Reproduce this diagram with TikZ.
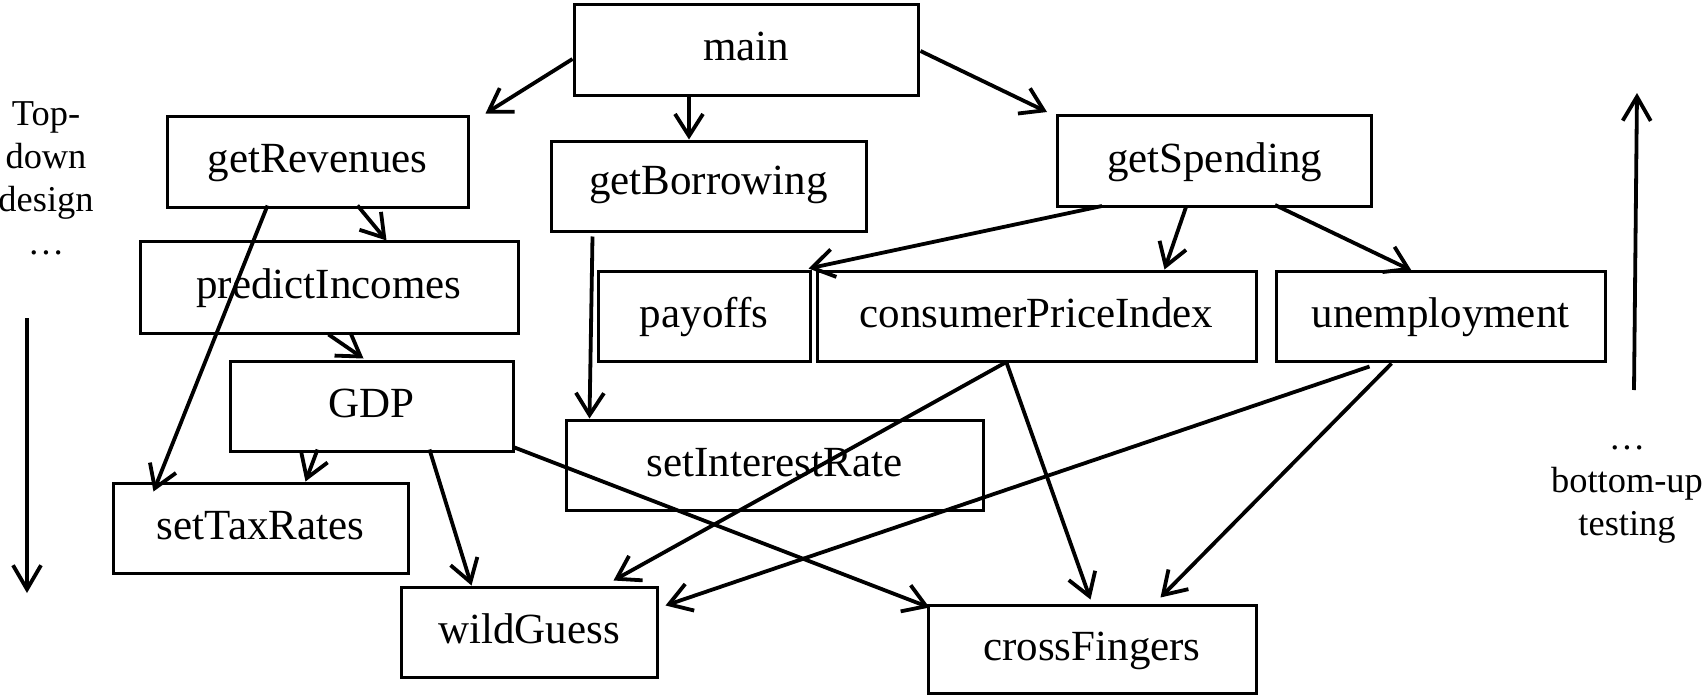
\documentclass[tikz,border=0pt]{standalone}
\usepackage{fontspec}
\setmainfont{Liberation Serif}
\usetikzlibrary{arrows.meta,calc}
\begin{document}
\begin{tikzpicture}[x=0.5pt,y=-0.5pt,
  box/.style={draw=black, line width=1.5pt, inner sep=0pt,
    font=\fontsize{21.5}{25}\selectfont, text height=14pt, text depth=3pt},
  arr/.style={line width=1.9pt, -{Straight Barb[length=11pt,width=14pt]}},
  sidetext/.style={anchor=base, inner sep=0pt, font=\fontsize{18.2}{21}\selectfont},
  bigarr/.style={line width=1.9pt, -{Straight Barb[length=12pt,width=14pt]}}
]
\useasboundingbox (0,0) rectangle (1704,696);

% boxes
\node[box, minimum width=172pt, minimum height=45.5pt] (main) at (746,49.5) {main};
\node[box, minimum width=150.5pt, minimum height=45.5pt] (gR) at (317.5,161.5) {getRevenues};
\node[box, minimum width=157.5pt, minimum height=45pt, text height=11pt] (gB) at (708.5,186) {getBorrowing};
\node[box, minimum width=157pt, minimum height=45.5pt] (gS) at (1214.5,161) {getSpending};
\node[box, minimum width=189pt, minimum height=46pt] (pI) at (329,287) {predictIncomes};
\node[box, minimum width=106pt, minimum height=45pt] (pay) at (704,316) {payoffs};
\node[box, minimum width=219.5pt, minimum height=45pt] (cpi) at (1036.5,316) {consumerPriceIndex};
\node[box, minimum width=164.5pt, minimum height=45pt] (un) at (1440.5,316) {unemployment};
\node[box, minimum width=141.5pt, minimum height=45pt] (gdp) at (371.5,406) {GDP};
\node[box, minimum width=208.5pt, minimum height=45pt] (sir) at (774.5,465) {setInterestRate};
\node[box, minimum width=147.5pt, minimum height=45pt] (stR) at (260.5,528) {setTaxRates};
\node[box, minimum width=128pt, minimum height=45pt] (wg) at (529,632) {wildGuess};
\node[box, minimum width=164pt, minimum height=44pt] (cf) at (1092,649) {crossFingers};

% connectors
\draw[arr] ($(main.west)+(0,9.5)$) -- ($(gR.north east)+(16,-1)$);
\draw[arr] ($(main.south)+(-57,0)$) -- ($(gB.north)+(-19.5,0)$);
\draw[arr] ($(main.east)+(1,1.5)$) -- ($(gS.north west)+(-9,-2)$);
\draw[arr] ($(gR.south west)+(192,-3)$) -- ($(pI.north west)+(248,1)$);
\draw[arr] ($(gR.south west)+(102,-3)$) -- ($(stR.north west)+(42,10)$);
\draw[arr] ($(pI.south west)+(190,0)$) -- ($(gdp.north west)+(135,-1)$);
\draw[arr] ($(gdp.south west)+(89,-3)$) -- ($(stR.north west)+(194,0)$);
\draw[arr] ($(gdp.south west)+(201,-3)$) -- ($(wg.north west)+(72,0)$);
\draw[arr] ($(gdp.south east)+(0,-5)$) -- ($(cf.north west)+(3,4)$);
\draw[arr] ($(gB.south west)+(43,4)$) -- ($(sir.north west)+(25,0)$);
\draw[arr] ($(gS.south west)+(46,-2)$) -- ($(pay.north east)+(-3,-1)$);
\draw[arr] ($(gS.south west)+(130,-1)$) -- ($(cpi.north west)+(349,0)$);
\draw[arr] ($(gS.south west)+(219,-3)$) -- ($(un.north west)+(137,1)$);
\draw[arr] ($(cpi.south west)+(190,0)$) -- ($(wg.north west)+(214,-5)$);
\draw[arr] ($(cpi.south west)+(191,0)$) -- ($(cf.north west)+(164,-4)$);
\draw[arr] ($(un.south west)+(95,4)$) -- ($(wg.north east)+(7,20)$);
\draw[arr] ($(un.south west)+(117,1)$) -- ($(cf.north west)+(234,-6)$);

% side annotations
\node[sidetext] (l1) at (46,125) {Top-};
\node[sidetext] (l2) at (46,168) {down};
\node[sidetext] (l3) at (46,211) {design};
\node[sidetext] (l4) at (46,254) {…};
\coordinate (la1) at (27,318);
\coordinate (la2) at (27,593);
\draw[bigarr] (la1) -- (la2);

\node[sidetext] (r1) at (1627,449) {…};
\node[sidetext] (r2) at (1627,492) {bottom-up};
\node[sidetext] (r3) at (1627,535) {testing};
\coordinate (ra1) at (1634,390);
\coordinate (ra2) at (1637,93);
\draw[bigarr] (ra1) -- (ra2);
\end{tikzpicture}
\end{document}
